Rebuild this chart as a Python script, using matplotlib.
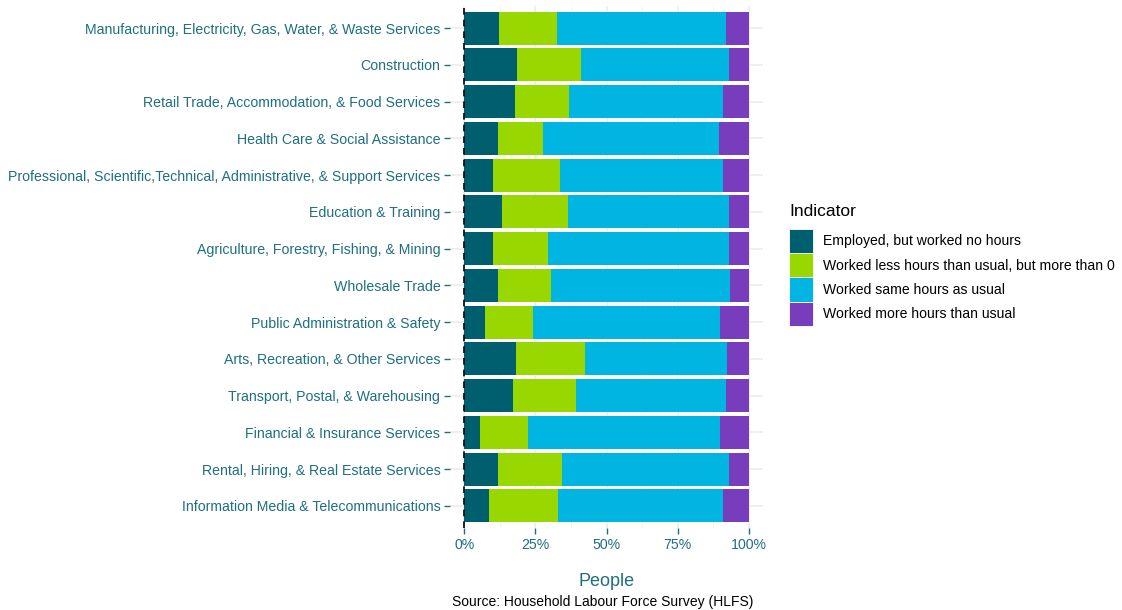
import numpy as np
import matplotlib.pyplot as plt
from matplotlib.patches import Patch
from matplotlib.ticker import FuncFormatter, MultipleLocator

plt.rcParams['font.family'] = ['Liberation Sans', 'DejaVu Sans']

# Industries, top to bottom
industries = [
    "Manufacturing, Electricity, Gas, Water, & Waste Services",
    "Construction",
    "Retail Trade, Accommodation, & Food Services",
    "Health Care & Social Assistance",
    "Professional, Scientific,Technical, Administrative, & Support Services",
    "Education & Training",
    "Agriculture, Forestry, Fishing, & Mining",
    "Wholesale Trade",
    "Public Administration & Safety",
    "Arts, Recreation, & Other Services",
    "Transport, Postal, & Warehousing",
    "Financial & Insurance Services",
    "Rental, Hiring, & Real Estate Services",
    "Information Media & Telecommunications",
]

# shares (%) per indicator
no_hours = [12.2, 18.5, 17.8, 11.8, 10.1, 13.2, 10.1, 11.8, 7.3, 18.1, 17.1, 5.5, 11.8, 8.7]
less_hours = [20.4, 22.5, 19.0, 15.8, 23.5, 23.2, 19.3, 18.6, 16.8, 24.3, 22.1, 16.9, 22.5, 24.2]
same_hours = [59.3, 52.0, 54.1, 61.9, 57.3, 56.6, 63.6, 62.9, 65.7, 49.9, 52.7, 67.4, 58.7, 58.0]
more_hours = [8.1, 7.0, 9.1, 10.5, 9.1, 7.0, 7.0, 6.7, 10.2, 7.7, 8.1, 10.2, 7.0, 9.1]

indicators = ["Employed, but worked no hours",
              "Worked less hours than usual, but more than 0",
              "Worked same hours as usual",
              "Worked more hours than usual"]
colors = ["#005F6E", "#99D700", "#00B5E2", "#773DBD"]
teal = "#1E6F80"

fig = plt.figure(figsize=(11.22, 6.10), dpi=100)
ax = fig.add_axes([450 / 1122, 1 - 528 / 610, 313 / 1122, 522 / 610])

series = [no_hours, less_hours, same_hours, more_hours]
n = len(industries)
ypos = np.arange(n)[::-1]
total = np.sum([np.array(s) for s in series], axis=0)
left = np.zeros(n)
for vals, c in zip(series, colors):
    frac = np.array(vals) / total  # normalise each row to 100%
    ax.barh(ypos, frac, left=left, height=0.9, color=c, linewidth=0)
    left += frac

ax.axvline(0, color="black", linestyle=(0, (4, 3)), linewidth=1.2, zorder=3)

ax.set_xlim(-0.05, 1.05)
ax.set_ylim(-0.6, n - 0.4)
ax.set_yticks(ypos)
ax.set_yticklabels(industries)
ax.xaxis.set_major_locator(MultipleLocator(0.25))
ax.xaxis.set_minor_locator(MultipleLocator(0.125))
ax.xaxis.set_major_formatter(FuncFormatter(lambda v, p: f"{v*100:.0f}%"))

ax.grid(True, which="major", color="#EBEBEB", linewidth=1.1)
ax.grid(True, which="minor", axis="x", color="#F3F3F3", linewidth=0.6)
ax.set_axisbelow(True)
for s in ax.spines.values():
    s.set_visible(False)

ax.tick_params(axis="both", which="major", colors=teal, labelsize=10.2, length=4, width=1, pad=3)
ax.tick_params(axis="x", which="minor", length=0)

ax.set_xlabel("People", color=teal, fontsize=13, labelpad=15)
fig.text(603 / 1122, 1 - 602 / 610, "Source: Household Labour Force Survey (HLFS)",
         ha="center", va="center", fontsize=10, color="black")

handles = [Patch(facecolor=c, edgecolor="white", linewidth=0.6) for c in colors]
leg = fig.legend(handles, indicators, title="Indicator", loc="upper left",
                 bbox_to_anchor=(778 / 1122, 1 - 193 / 610), frameon=False,
                 fontsize=10.1, title_fontsize=12.5, handlelength=1.73, handleheight=2.28,
                 labelspacing=0.0, handletextpad=0.7, borderpad=0.3)
leg._legend_box.align = "left"
leg._legend_box.sep = 7

fig.savefig("out.png", dpi=100)
